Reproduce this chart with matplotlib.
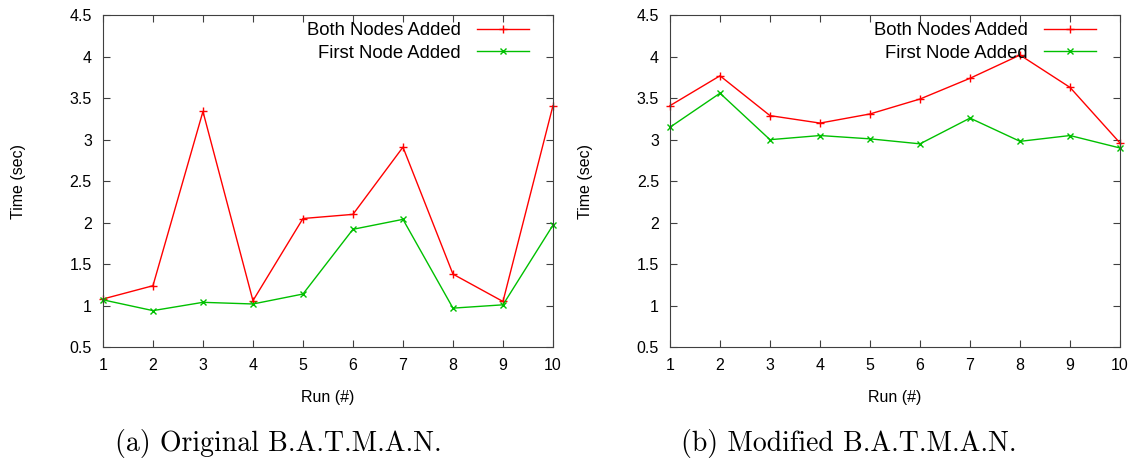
import matplotlib.pyplot as plt

runs = [1, 2, 3, 4, 5, 6, 7, 8, 9, 10]

# (a) original
orig_both = [1.08, 1.24, 3.34, 1.06, 2.05, 2.10, 2.91, 1.38, 1.05, 3.41]
orig_first = [1.07, 0.94, 1.04, 1.02, 1.14, 1.92, 2.04, 0.97, 1.01, 1.97]

# (b) modified
mod_both = [3.41, 3.77, 3.29, 3.20, 3.31, 3.49, 3.74, 4.02, 3.63, 2.96]
mod_first = [3.15, 3.56, 3.00, 3.05, 3.01, 2.95, 3.26, 2.98, 3.05, 2.90]

captions = ["(a) Original B.A.T.M.A.N.", "(b) Modified B.A.T.M.A.N."]
yticks = [0.5, 1, 1.5, 2, 2.5, 3, 3.5, 4, 4.5]
ytick_labels = ["0.5", "1", "1.5", "2", "2.5", "3", "3.5", "4", "4.5"]

plt.rcParams['font.family'] = ['Liberation Sans', 'DejaVu Sans']

fig = plt.figure(figsize=(11.35, 4.61), dpi=100)
axes = [fig.add_axes([0.0907, 0.247, 0.3965, 0.720]),
        fig.add_axes([0.5903, 0.247, 0.3965, 0.720])]

panels = [(orig_both, orig_first), (mod_both, mod_first)]
cap_x = [278, 849]

for ax, (both, first), cap, cx in zip(axes, panels, captions, cap_x):
    ax.plot(runs, both, color='#ff0000', marker='+', markersize=6, lw=1,
            label="Both Nodes Added", clip_on=False)
    ax.plot(runs, first, color='#00c000', marker='x', markersize=5, lw=1,
            label="First Node Added", clip_on=False)
    ax.set_xlim(1, 10)
    ax.set_ylim(0.5, 4.5)
    ax.set_xticks(runs)
    ax.set_yticks(yticks)
    ax.set_yticklabels(ytick_labels)
    ax.tick_params(direction='in', top=True, right=True, length=5,
                   labelsize=11.5, color='#404040', pad=8)
    for s in ax.spines.values():
        s.set_color('#404040')
    ax.set_xlabel("Run (#)", fontsize=11.5, labelpad=12)
    ax.set_ylabel("Time (sec)", fontsize=11.5)
    ax.yaxis.set_label_coords(-0.172, 0.5)
    leg = ax.legend(loc='upper right', bbox_to_anchor=(0.955, 0.99),
                    frameon=False, markerfirst=False, fontsize=13.3,
                    handlelength=2.8, borderaxespad=0, borderpad=0.2,
                    labelspacing=0.3, handletextpad=0.9)
    for t in leg.get_texts():
        t.set_ha('right')
    fig.text(cx / 1135, 1 - 443 / 461, cap, family='cmr10', fontsize=20,
             ha='center', va='center')

fig.savefig("out.png", dpi=100)
